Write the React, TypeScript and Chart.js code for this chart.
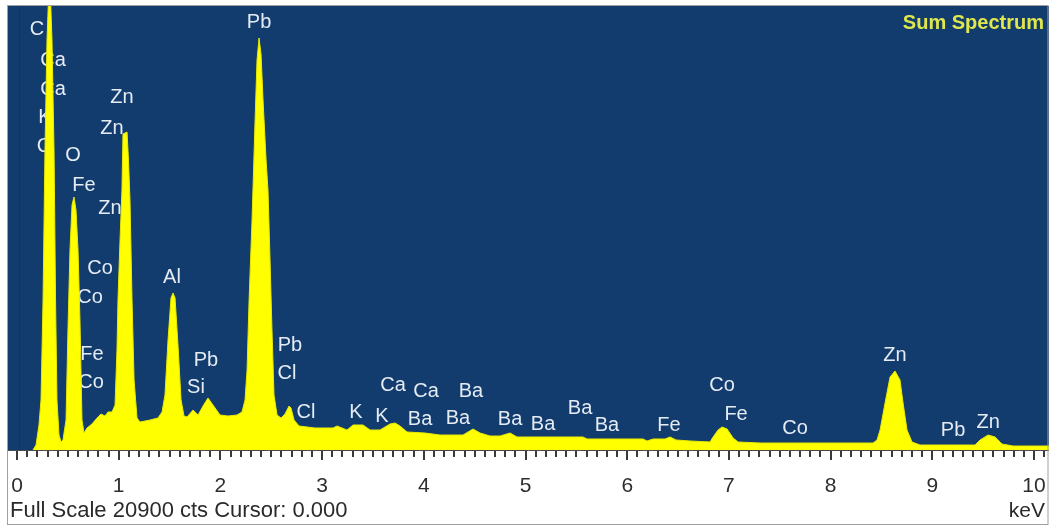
import React, { useEffect, useRef } from "react";
import { Chart, registerables } from "chart.js";

Chart.register(...registerables);

// Spectrum: energy (keV) and counts (cts)
const energyKeV = [
  0.157, 0.187, 0.216, 0.236, 0.256, 0.275, 0.295, 0.32, 0.344, 0.364,
  0.379, 0.393, 0.413, 0.433, 0.452, 0.482, 0.501, 0.521, 0.541, 0.56,
  0.58, 0.6, 0.619, 0.639, 0.659, 0.688, 0.737, 0.787, 0.826, 0.865,
  0.895, 0.934, 0.964, 0.983, 0.993, 1.013, 1.032, 1.042, 1.082, 1.096,
  1.111, 1.131, 1.151, 1.18, 1.209, 1.308, 1.386, 1.426, 1.455, 1.485,
  1.514, 1.534, 1.554, 1.583, 1.613, 1.642, 1.672, 1.731, 1.78, 1.829,
  1.878, 1.927, 1.996, 2.075, 2.163, 2.212, 2.242, 2.262, 2.282, 2.311,
  2.341, 2.36, 2.38, 2.4, 2.419, 2.449, 2.468, 2.488, 2.507, 2.527,
  2.557, 2.596, 2.635, 2.675, 2.694, 2.724, 2.773, 2.93, 3.107, 3.147,
  3.245, 3.304, 3.402, 3.471, 3.569, 3.668, 3.717, 3.766, 3.835, 4.012,
  4.159, 4.385, 4.484, 4.553, 4.651, 4.749, 4.848, 4.916, 5.241, 5.565,
  5.605, 6.155, 6.195, 6.254, 6.372, 6.421, 6.48, 6.618, 6.814, 6.844,
  6.893, 6.932, 6.982, 7.041, 7.09, 7.306, 7.699, 8.092, 8.417, 8.456,
  8.486, 8.535, 8.584, 8.633, 8.682, 8.712, 8.751, 8.8, 8.879, 9.174,
  9.42, 9.469, 9.548, 9.617, 9.685, 9.794, 10.147,
];
const counts = [
  0, 235, 1177, 2354, 7061, 14121, 19299, 22594, 19299, 14121,
  7061, 2354, 706, 377, 471, 1412, 5648, 9414, 11532, 11909,
  11297, 9414, 6119, 1412, 800, 1036, 1224, 1506, 1695, 1600,
  1789, 1789, 2118, 4707, 7061, 9885, 12238, 14874, 14968, 13650,
  11768, 7061, 3295, 1506, 1318, 1412, 1506, 1789, 2589, 5178,
  7155, 7390, 7155, 4942, 2354, 1600, 1553, 1883, 1647, 2071,
  2448, 2118, 1647, 1600, 1647, 1789, 2354, 3766, 7061, 10826,
  15533, 18357, 19393, 18593, 16475, 13650, 12238, 8943, 5648, 2589,
  1647, 1506, 1695, 2071, 1977, 1412, 1130, 1036, 1036, 1130,
  941, 1177, 1177, 941, 941, 1224, 1271, 1130, 847, 800,
  706, 706, 988, 800, 659, 659, 800, 612, 612, 612,
  518, 518, 424, 518, 518, 612, 471, 424, 377, 612,
  941, 1083, 988, 565, 377, 329, 329, 329, 329, 471,
  941, 2212, 3436, 3719, 3295, 2212, 941, 377, 235, 235,
  235, 471, 706, 612, 282, 188, 188,
];

// Axis tick labels (keV)
const tickValues = [0, 1, 2, 3, 4, 5, 6, 7, 8, 9, 10];

// Element labels: text, energy (keV), height (cts)
const peakLabels = [
  "C", "Ca", "Ca", "K", "C", "O", "Fe", "Zn", "Zn", "Zn",
  "Pb", "Co", "Co", "Fe", "Co", "Al", "Pb", "Si", "Pb", "Cl",
  "Cl", "K", "K", "Ca", "Ca", "Ba", "Ba", "Ba", "Ba", "Ba",
  "Ba", "Ba", "Fe", "Co", "Fe", "Co", "Zn", "Pb", "Zn",
];
const peakLabelKeV = [
  0.197, 0.354, 0.354, 0.275, 0.265, 0.551, 0.659, 1.032, 0.934, 0.914,
  2.38, 0.816, 0.718, 0.737, 0.728, 1.524, 1.858, 1.76, 2.684, 2.655,
  2.842, 3.333, 3.589, 3.697, 4.022, 3.963, 4.336, 4.464, 4.848, 5.172,
  5.536, 5.801, 6.411, 6.932, 7.07, 7.65, 8.633, 9.204, 9.548,
];
const peakLabelCts = [
  19817, 18357, 16992, 15674, 14309, 13886, 12474, 16616, 15157, 11391,
  20146, 8567, 7202, 4519, 3201, 8143, 4236, 2965, 4942, 3624,
  1789, 1789, 1600, 3060, 2777, 1459, 1506, 2777, 1459, 1224,
  1977, 1177, 1177, 3060, 1695, 1036, 4472, 941, 1318,
];

const fullScaleCts = 20900;
const xMinKeV = -0.0885;
const xMaxKeV = 10.147;
const titleText = "Sum Spectrum";
const footerText = "Full Scale 20900 cts Cursor: 0.000";
const unitText = "keV";

const FONT = "'Liberation Sans', Arial, Helvetica, sans-serif";

export default function App() {
  const ref = useRef<HTMLCanvasElement | null>(null);

  useEffect(() => {
    document.body.style.margin = "0";
    const canvas = ref.current;
    if (!canvas) return;

    const decor = {
      id: "decor",
      beforeDraw(chart: any) {
        const { ctx, chartArea: a, width, height } = chart;
        ctx.save();
        ctx.fillStyle = "#ffffff";
        ctx.fillRect(0, 0, width, height);
        ctx.fillStyle = "#123c6e";
        ctx.fillRect(a.left, a.top, a.right - a.left, a.bottom - a.top);
        // faint line near 0 keV
        const x0 = Math.round(chart.scales.x.getPixelForValue(0.02)) + 0.5;
        ctx.strokeStyle = "#0e3564";
        ctx.lineWidth = 1;
        ctx.beginPath();
        ctx.moveTo(x0, a.top);
        ctx.lineTo(x0, a.bottom);
        ctx.stroke();
        ctx.restore();
      },
      beforeDatasetsDraw(chart: any) {
        const { ctx } = chart;
        const xs = chart.scales.x;
        const ys = chart.scales.y;
        ctx.save();
        ctx.fillStyle = "#e4ebf3";
        ctx.font = `20px ${FONT}`;
        ctx.textAlign = "center";
        ctx.textBaseline = "middle";
        peakLabels.forEach((t, i) => {
          ctx.fillText(t, xs.getPixelForValue(peakLabelKeV[i]), ys.getPixelForValue(peakLabelCts[i]));
        });
        ctx.restore();
      },
      afterDraw(chart: any) {
        const { ctx, chartArea: a } = chart;
        const xs = chart.scales.x;
        ctx.save();
        // axis line
        ctx.strokeStyle = "#4a4a4a";
        ctx.lineWidth = 1;
        ctx.beginPath();
        ctx.moveTo(a.left, a.bottom + 0.5);
        ctx.lineTo(a.right, a.bottom + 0.5);
        ctx.stroke();
        // ticks: minor every 0.1 keV, major every keV
        ctx.strokeStyle = "#3a3a3a";
        ctx.lineWidth = 2;
        for (let i = 0; i <= 101; i++) {
          const v = i / 10;
          if (v > xMaxKeV) break;
          const px = Math.round(xs.getPixelForValue(v));
          const major = i % 10 === 0;
          ctx.beginPath();
          ctx.moveTo(px, a.bottom + 1);
          ctx.lineTo(px, a.bottom + (major ? 10 : 7));
          ctx.stroke();
        }
        // footer texts
        ctx.fillStyle = "#2a2a2a";
        ctx.font = `22px ${FONT}`;
        ctx.textBaseline = "middle";
        ctx.textAlign = "left";
        ctx.fillText(footerText, 10, 511);
        ctx.textAlign = "right";
        ctx.font = `21px ${FONT}`;
        ctx.fillText(unitText, 1045, 511);
        // title
        ctx.fillStyle = "#dfe74c";
        ctx.font = `bold 20px ${FONT}`;
        ctx.textAlign = "right";
        ctx.fillText(titleText, 1044, a.top + 17);
        // frame
        ctx.strokeStyle = "#a0a0a0";
        ctx.lineWidth = 1;
        ctx.strokeRect(7.5, 5.5, 1040.5, 519);
        ctx.restore();
      },
    };

    const points = energyKeV.map((e, i) => ({ x: e, y: counts[i] }));

    const chart = new Chart(canvas, {
      type: "line",
      data: {
        datasets: [
          {
            data: points,
            fill: "origin",
            backgroundColor: "#ffff00",
            borderColor: "#e9e900",
            borderWidth: 1,
            pointRadius: 0,
            tension: 0,
          },
        ],
      },
      options: {
        responsive: false,
        maintainAspectRatio: false,
        animation: false,
        devicePixelRatio: 1,
        layout: { padding: { left: 8, right: 0, top: 6, bottom: 0 } },
        plugins: { legend: { display: false }, tooltip: { enabled: false }, title: { display: false } },
        scales: {
          x: {
            type: "linear",
            min: xMinKeV,
            max: xMaxKeV,
            offset: false,
            grid: { display: false },
            border: { display: false },
            ticks: {
              autoSkip: false,
              maxRotation: 0,
              padding: 16,
              color: "#2e2e2e",
              font: { family: FONT, size: 21 },
              callback: (v: any) => String(v),
            },
            afterBuildTicks: (s: any) => {
              s.ticks = tickValues.map((v) => ({ value: v }));
            },
            afterFit: (s: any) => {
              s.height = 76;
              s.paddingLeft = 0;
              s.paddingRight = 0;
              s.paddingTop = 0;
              s.paddingBottom = 0;
            },
          },
          y: { display: false, min: 0, max: fullScaleCts },
        },
      },
      plugins: [decor],
    } as any);

    return () => chart.destroy();
  }, []);

  return <canvas ref={ref} width={1049} height={526} style={{ display: "block", width: 1049, height: 526 }} />;
}
